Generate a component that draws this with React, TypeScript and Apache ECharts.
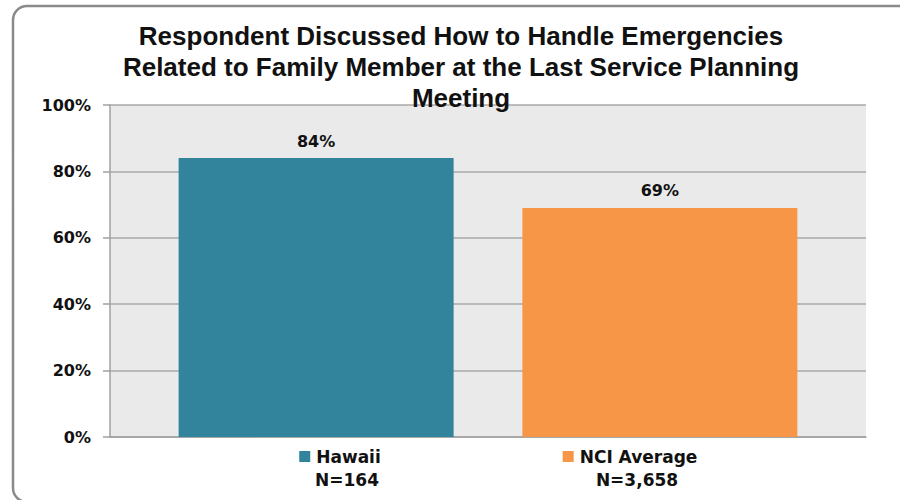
import React, { useEffect, useRef } from "react";
import * as echarts from "echarts";

const categories = ["Hawaii", "NCI Average"];
const sampleSizes = ["N=164", "N=3,658"];
const values = [84, 69];
const colors = ["#31849B", "#F79646"];
const titleLines = [
  "Respondent Discussed How to Handle Emergencies",
  "Related to Family Member at the Last Service Planning",
  "Meeting",
];
const yMin = 0;
const yMax = 100;
const yInterval = 20;

export default function App() {
  const ref = useRef<HTMLDivElement>(null);
  useEffect(() => {
    if (!ref.current) return;
    const chart = echarts.init(ref.current, undefined, { renderer: "svg" });
    const labelFont = "DejaVu Sans";
    const rich: any = {
      t: { fontFamily: labelFont, fontWeight: "bold", fontSize: 17, color: "#111", lineHeight: 23, padding: [0, 0, 0, 6] },
      n: { fontFamily: labelFont, fontWeight: "bold", fontSize: 17, color: "#111", lineHeight: 23, padding: [0, 0, 0, 14] },
    };
    colors.forEach((c, i) => {
      rich["sq" + i] = { width: 11, height: 11, backgroundColor: c, lineHeight: 23 };
    });
    chart.setOption({
      animation: false,
      backgroundColor: "#ffffff",
      graphic: [
        {
          type: "rect",
          shape: { x: 13, y: 6, width: 900, height: 496, r: 14 },
          style: { fill: "none", stroke: "#8a8a8a", lineWidth: 2.5 },
          z: 0,
        },
        {
          type: "text",
          x: 461,
          y: 20,
          style: {
            text: titleLines.join("\n"),
            textAlign: "center",
            textVerticalAlign: "top",
            fontFamily: "Liberation Sans",
            fontWeight: "bold",
            fontSize: 26,
            lineHeight: 31,
            fill: "#111",
          },
          z: 10,
        },
      ],
      grid: [
        { left: 110, right: 34, top: 105, bottom: 63, show: true, backgroundColor: "#EAEAEA", borderWidth: 0 },
        { left: 195, right: 125, top: 105, bottom: 63, show: false },
      ],
      xAxis: [
        {
          type: "category",
          gridIndex: 0,
          data: [""],
          axisLine: { show: true, lineStyle: { color: "#a0a0a0", width: 1.5 } },
          axisTick: { show: false },
          axisLabel: { show: false },
        },
        {
          type: "category",
          gridIndex: 1,
          data: categories,
          axisLine: { show: false },
          axisTick: { show: false },
          axisLabel: {
            margin: 8,
            formatter: (name: string) => {
              const i = categories.indexOf(name);
              return `{sq${i}|}{t|${name}}\n{n|${sampleSizes[i]}}`;
            },
            rich,
          },
        },
      ],
      yAxis: [
        {
          type: "value",
          gridIndex: 0,
          min: yMin,
          max: yMax,
          interval: yInterval,
          axisLine: { show: true, lineStyle: { color: "#a0a0a0", width: 1.5 } },
          axisTick: { show: true, length: 7, lineStyle: { color: "#a0a0a0", width: 1.5 } },
          splitLine: { show: true, lineStyle: { color: "#a8a8a8", width: 1.5 } },
          axisLabel: {
            formatter: "{value}%",
            margin: 19,
            fontFamily: labelFont,
            fontWeight: "bold",
            fontSize: 16,
            color: "#111",
          },
        },
        {
          type: "value",
          gridIndex: 1,
          show: false,
          min: yMin,
          max: yMax,
        },
      ],
      series: categories.map((name, i) => ({
        type: "bar",
        name,
        xAxisIndex: 0,
        yAxisIndex: 0,
        data: [values[i]],
        barWidth: 275,
        barGap: "25%",
        itemStyle: { color: colors[i] },
        label: {
          show: true,
          position: "top",
          distance: 9,
          formatter: "{c}%",
          fontFamily: labelFont,
          fontWeight: "bold",
          fontSize: 16,
          color: "#111",
        },
      })),
    });
    return () => chart.dispose();
  }, []);
  return (
    <div
      ref={ref}
      style={{ position: "fixed", left: 0, top: 0, width: 900, height: 500 }}
    />
  );
}
